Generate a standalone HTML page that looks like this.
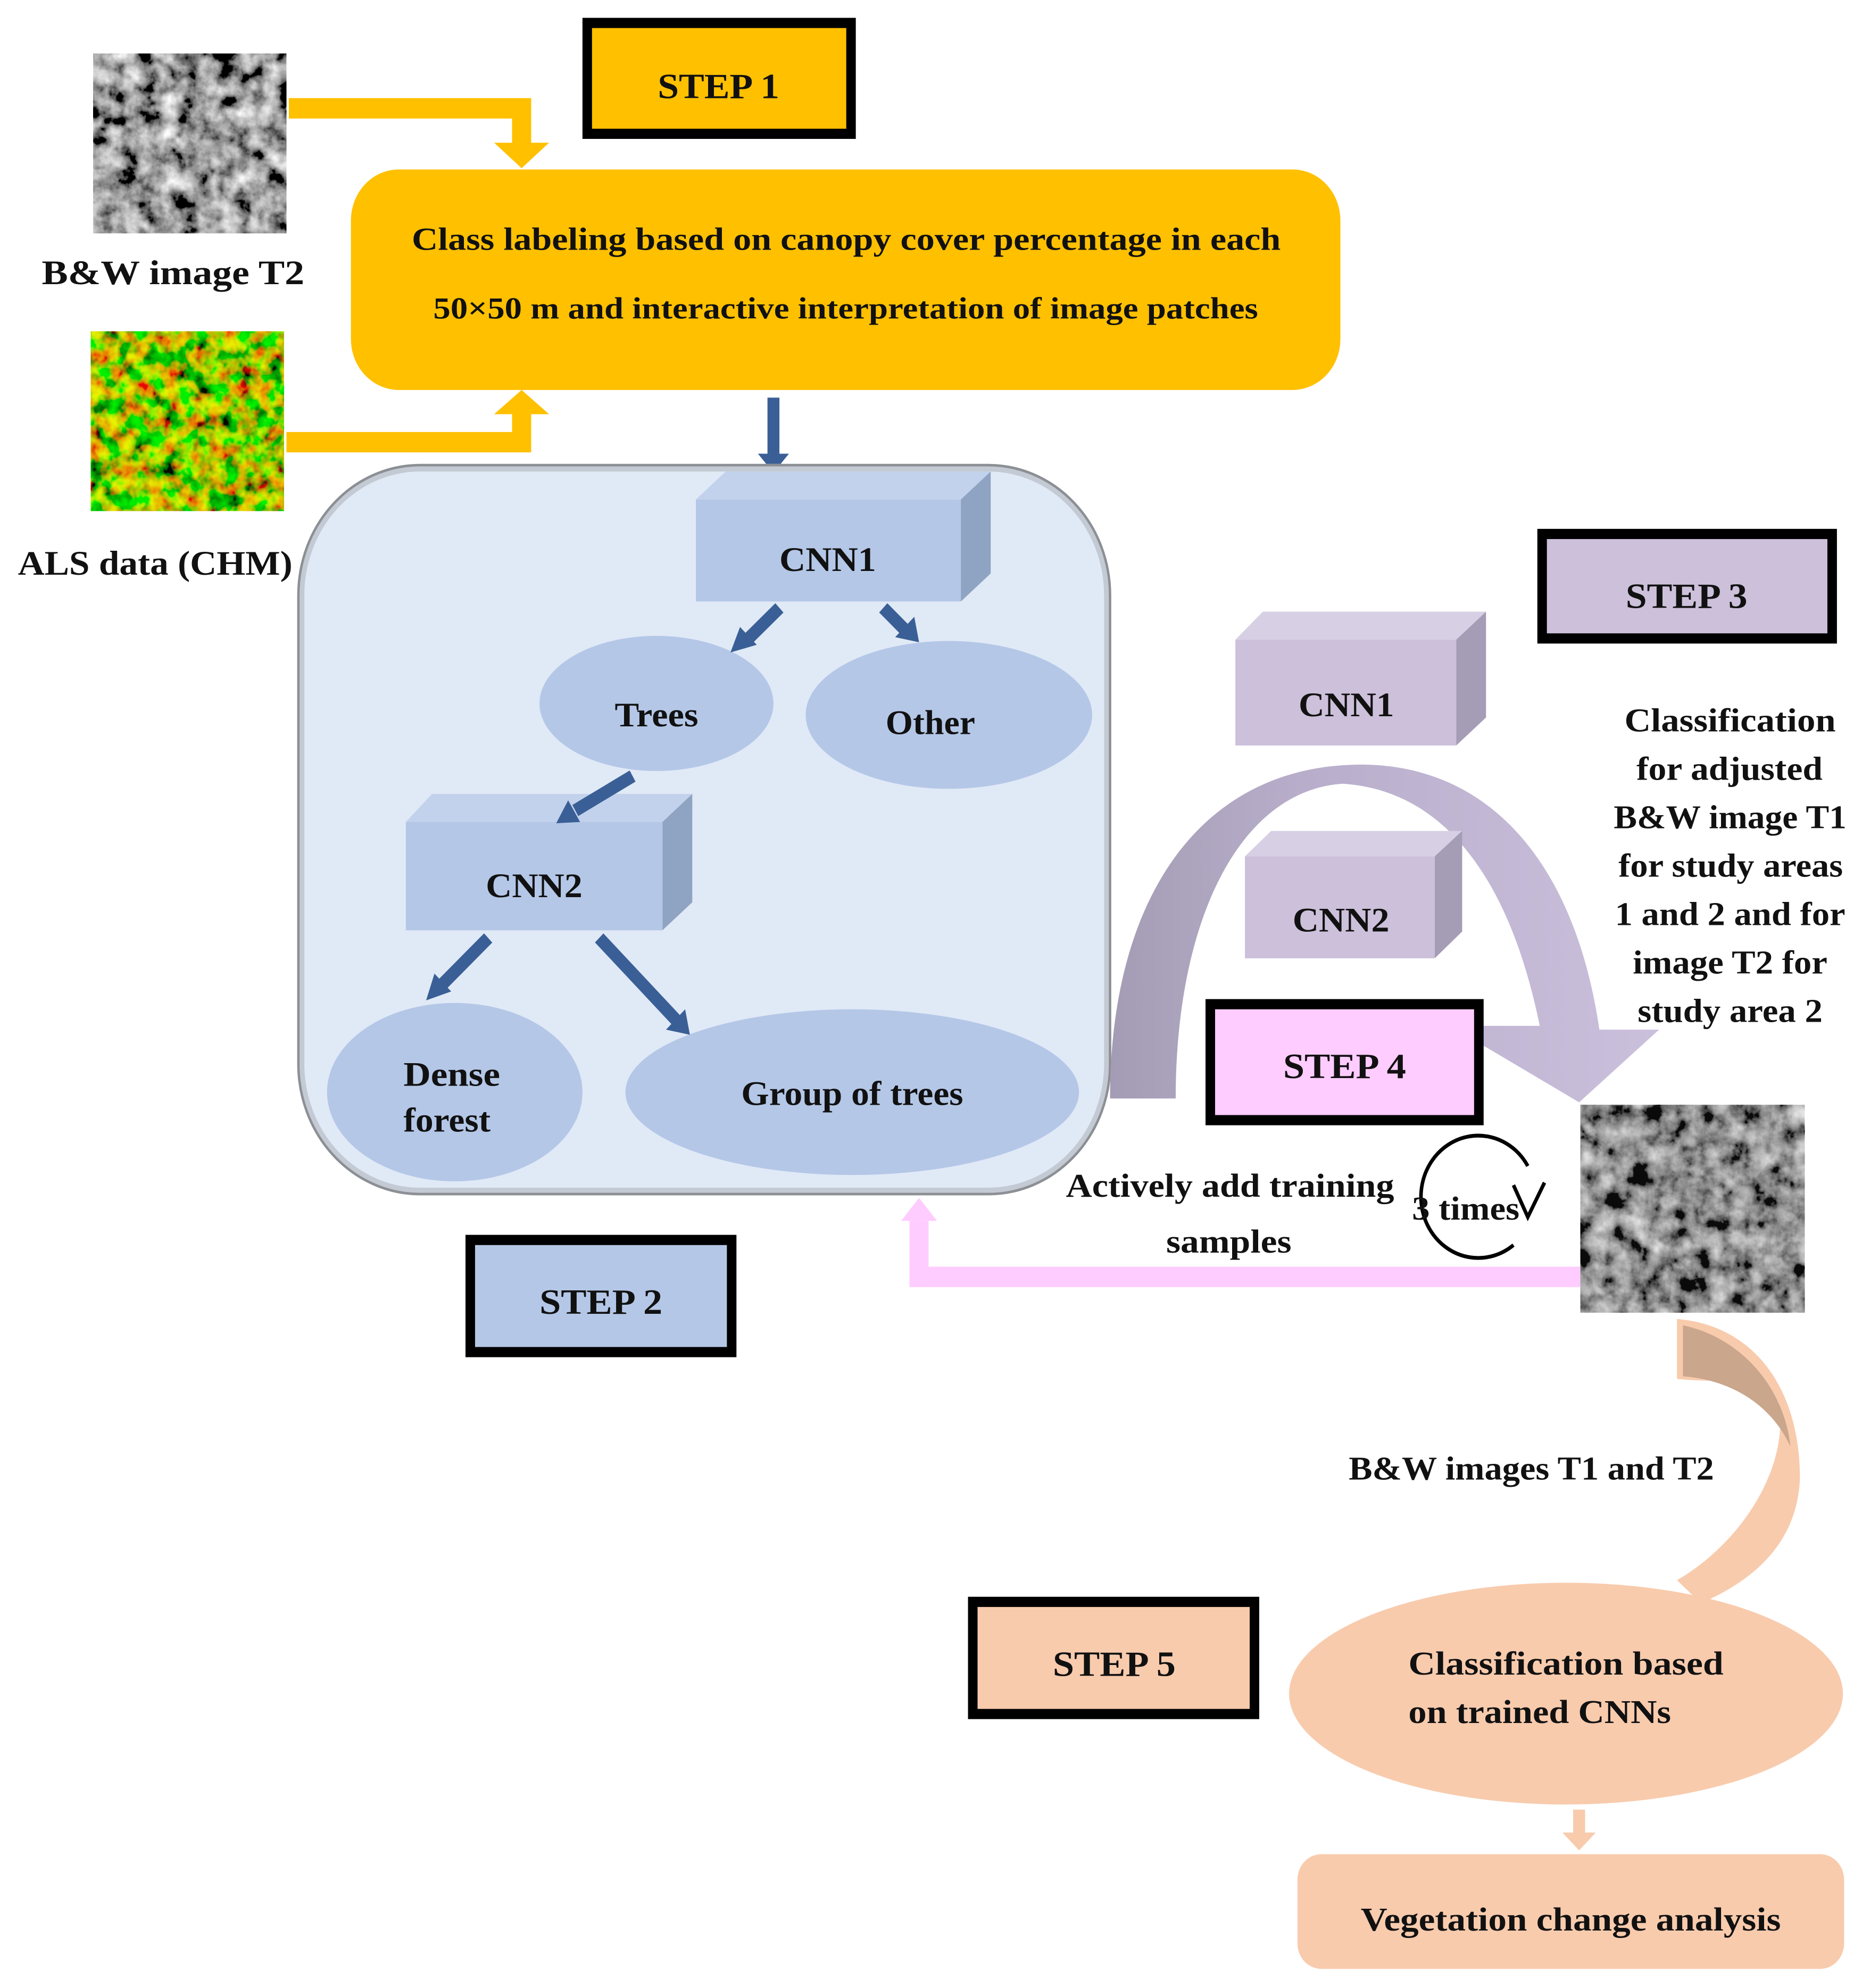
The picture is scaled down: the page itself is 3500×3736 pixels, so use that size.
<!DOCTYPE html>
<html><head><meta charset="utf-8"><style>html,body{margin:0;padding:0;background:#fff}svg{display:block}text{font-family:"Liberation Serif",serif;font-weight:bold;fill:#111}</style></head>
<body>
<svg width="3500" height="3736" viewBox="0 0 1560 1560" preserveAspectRatio="none" xmlns="http://www.w3.org/2000/svg">
<defs>
<filter id="gray" x="0" y="0" width="100%" height="100%"><feTurbulence type="fractalNoise" baseFrequency="0.06" numOctaves="4" seed="3"/><feColorMatrix type="matrix" values="0.33 0.33 0.33 0 0 0.33 0.33 0.33 0 0 0.33 0.33 0.33 0 0 0 0 0 0 1"/><feComponentTransfer><feFuncR type="linear" slope="3" intercept="-1.15"/><feFuncG type="linear" slope="3" intercept="-1.15"/><feFuncB type="linear" slope="3" intercept="-1.15"/></feComponentTransfer></filter>
<filter id="chm" x="0" y="0" width="100%" height="100%"><feTurbulence type="fractalNoise" baseFrequency="0.08" numOctaves="3" seed="7"/><feColorMatrix type="matrix" values="4 0 0 0 -1.6  0 2.2 0 0 -0.5  0 0 0 0 0  0 0 0 0 1"/></filter>
<linearGradient id="arch" x1="0" x2="1" y1="0" y2="0"><stop offset="0" stop-color="#a49cb4"/><stop offset="0.35" stop-color="#b8aecb"/><stop offset="1" stop-color="#cbc0dc"/></linearGradient>
</defs>
<!-- images -->
<rect x="78" y="42" width="162" height="141" fill="#555"/>
<rect x="78" y="42" width="162" height="141" filter="url(#gray)"/>
<rect x="76" y="260" width="162" height="141" fill="#1a6a00"/>
<rect x="76" y="260" width="162" height="141" filter="url(#chm)" opacity="0.9"/>
<text x="35" y="223" font-size="27" textLength="220" lengthAdjust="spacingAndGlyphs">B&amp;W image T2</text>
<text x="15" y="451" font-size="27" textLength="230" lengthAdjust="spacingAndGlyphs">ALS data (CHM)</text>
<!-- step 1 -->
<rect x="492" y="18" width="221" height="87" fill="#ffc000" stroke="#000" stroke-width="8"/>
<text x="551" y="77" font-size="28" textLength="102" lengthAdjust="spacingAndGlyphs">STEP 1</text>
<rect x="294" y="133" width="829" height="173" rx="40" fill="#ffc000"/>
<text x="345" y="196" font-size="25" textLength="728" lengthAdjust="spacingAndGlyphs">Class labeling based on canopy cover percentage in each</text>
<text x="363" y="250" font-size="24" textLength="691" lengthAdjust="spacingAndGlyphs">50×50 m and interactive interpretation of image patches</text>
<path d="M242,77 H445 V112 H460 L437,132 L414,112 H429 V93 H242 Z" fill="#ffc000"/>
<path d="M240,355 H445 V325 H460 L437,306 L414,325 H429 V339 H240 Z" fill="#ffc000"/>
<!-- blue arrow down -->
<path d="M643,312 H653 V356 H661 L648,371 L635,356 H643 Z" fill="#3a5f96"/>
<!-- container -->
<rect x="252" y="367" width="676" height="568" rx="100" fill="#e0e9f6" stroke="#c4cad3" stroke-width="6"/>
<rect x="250" y="365" width="680" height="572" rx="102" fill="none" stroke="#8c8f94" stroke-width="2"/>
<!-- CNN1 -->
<path d="M583,392 L608,370 H830 L805,392 Z" fill="#c2d2ec"/>
<path d="M805,392 L830,370 V450 L805,472 Z" fill="#8fa3c2"/>
<rect x="583" y="392" width="222" height="80" fill="#b4c7e7"/>
<text x="653" y="448" font-size="27" textLength="81" lengthAdjust="spacingAndGlyphs">CNN1</text>
<ellipse cx="550" cy="552" rx="98" ry="53" fill="#b4c7e7"/>
<text x="515" y="570" font-size="27" textLength="70" lengthAdjust="spacingAndGlyphs">Trees</text>
<ellipse cx="795" cy="561" rx="120" ry="58" fill="#b4c7e7"/>
<text x="742" y="576" font-size="27" textLength="75" lengthAdjust="spacingAndGlyphs">Other</text>
<!-- CNN2 -->
<path d="M340,645 L362,623 H580 L555,645 Z" fill="#c2d2ec"/>
<path d="M555,645 L580,623 V708 L555,730 Z" fill="#8fa3c2"/>
<rect x="340" y="645" width="215" height="85" fill="#b4c7e7"/>
<text x="407" y="704" font-size="27" textLength="81" lengthAdjust="spacingAndGlyphs">CNN2</text>
<ellipse cx="381" cy="857" rx="107" ry="70" fill="#b4c7e7"/>
<text x="338" y="852" font-size="27" textLength="81" lengthAdjust="spacingAndGlyphs">Dense</text>
<text x="338" y="888" font-size="27" textLength="73" lengthAdjust="spacingAndGlyphs">forest</text>
<ellipse cx="714" cy="857" rx="190" ry="65" fill="#b4c7e7"/>
<text x="621" y="867" font-size="27" textLength="186" lengthAdjust="spacingAndGlyphs">Group of trees</text>
<!-- blue arrows -->
<g stroke="#3a5f96" stroke-width="10" fill="#3a5f96">
<line x1="653" y1="477" x2="625" y2="503"/><line x1="740" y1="477" x2="760" y2="496"/>
<line x1="530" y1="609" x2="482" y2="636"/><line x1="409" y1="736" x2="370" y2="773"/>
<line x1="502" y1="736" x2="567" y2="801"/>
</g>
<g fill="#3a5f96">
<polygon points="612,512 620,492 634,506"/><polygon points="770,504 750,500 766,484"/>
<polygon points="466,646 476,628 486,645"/><polygon points="357,785 364,764 378,778"/>
<polygon points="578,812 558,808 574,792"/>
</g>
<!-- step 2 -->
<rect x="394" y="973" width="219" height="88" fill="#b4c7e7" stroke="#000" stroke-width="8"/>
<text x="452" y="1031" font-size="28" textLength="103" lengthAdjust="spacingAndGlyphs">STEP 2</text>
<!-- step 3 -->
<rect x="1292" y="419" width="243" height="82" fill="#ccc0da" stroke="#000" stroke-width="8"/>
<text x="1362" y="477" font-size="28" textLength="102" lengthAdjust="spacingAndGlyphs">STEP 3</text>
<path d="M1035,502 L1058,480 H1245 L1220,502 Z" fill="#d7cfe3"/>
<path d="M1220,502 L1245,480 V563 L1220,585 Z" fill="#a59cb6"/>
<rect x="1035" y="502" width="185" height="83" fill="#ccc0da"/>
<text x="1088" y="562" font-size="27" textLength="80" lengthAdjust="spacingAndGlyphs">CNN1</text>
<!-- arch -->
<path d="M930,862 C930,700 1010,600 1140,600 C1250,600 1320,680 1340,808 L1390,808 L1323,865 L1215,805 L1290,805 C1265,690 1210,620 1125,615 C1040,620 985,720 985,862 Z" fill="url(#arch)"/>
<path d="M1043,672 L1065,652 H1225 L1202,672 Z" fill="#d7cfe3"/>
<path d="M1202,672 L1225,652 V731 L1202,752 Z" fill="#a59cb6"/>
<rect x="1043" y="672" width="159" height="80" fill="#ccc0da"/>
<text x="1083" y="731" font-size="27" textLength="81" lengthAdjust="spacingAndGlyphs">CNN2</text>
<g font-size="26" lengthAdjust="spacingAndGlyphs">
<text x="1361" y="574" textLength="177" lengthAdjust="spacingAndGlyphs">Classification</text>
<text x="1371" y="612" textLength="156" lengthAdjust="spacingAndGlyphs">for adjusted</text>
<text x="1352" y="650" textLength="195" lengthAdjust="spacingAndGlyphs">B&amp;W image T1</text>
<text x="1356" y="688" textLength="188" lengthAdjust="spacingAndGlyphs">for study areas</text>
<text x="1353" y="726" textLength="193" lengthAdjust="spacingAndGlyphs">1 and 2 and for</text>
<text x="1368" y="764" textLength="163" lengthAdjust="spacingAndGlyphs">image T2 for</text>
<text x="1372" y="802" textLength="155" lengthAdjust="spacingAndGlyphs">study area 2</text></g>
<!-- step 4 -->
<rect x="1014" y="788" width="225" height="91" fill="#ffccff" stroke="#000" stroke-width="8"/>
<text x="1075" y="846" font-size="28" textLength="103" lengthAdjust="spacingAndGlyphs">STEP 4</text>
<rect x="1324" y="867" width="188" height="163" fill="#444"/>
<rect x="1324" y="867" width="188" height="163" filter="url(#gray)" opacity="0.85"/>
<text x="893" y="939" font-size="26" textLength="275" lengthAdjust="spacingAndGlyphs">Actively add training</text>
<text x="977" y="983" font-size="26" textLength="105" lengthAdjust="spacingAndGlyphs">samples</text>
<path d="M1268,977 A48,48 0 1 1 1280,915" fill="none" stroke="#000" stroke-width="3"/>
<path d="M1268,930 L1280,955 L1294,928" fill="none" stroke="#000" stroke-width="3"/>
<text x="1183" y="957" font-size="26" textLength="90" lengthAdjust="spacingAndGlyphs">3 times</text>
<rect x="762" y="958" width="16" height="52" fill="#ffccff"/><rect x="762" y="994" width="562" height="16" fill="#ffccff"/>
<polygon points="755,958 785,958 770,940" fill="#ffccff"/>
<!-- peach arrow -->
<path d="M1405,1035 C1470,1040 1508,1090 1508,1160 C1506,1210 1470,1240 1425,1258 L1405,1240 C1460,1210 1500,1150 1490,1100 C1470,1080 1430,1085 1405,1082 Z" fill="#f8cbad"/>
<path d="M1410,1040 C1460,1050 1495,1090 1500,1135 C1480,1095 1440,1082 1410,1080 Z" fill="#c9a68c"/>
<text x="1130" y="1161" font-size="26" textLength="306" lengthAdjust="spacingAndGlyphs">B&amp;W images T1 and T2</text>
<rect x="815" y="1257" width="236" height="88" fill="#f8cbad" stroke="#000" stroke-width="8"/>
<text x="882" y="1315" font-size="28" textLength="103" lengthAdjust="spacingAndGlyphs">STEP 5</text>
<ellipse cx="1312" cy="1329" rx="232" ry="87" fill="#f8cbad"/>
<text x="1180" y="1314" font-size="26" textLength="264" lengthAdjust="spacingAndGlyphs">Classification  based</text>
<text x="1180" y="1352" font-size="26" textLength="220" lengthAdjust="spacingAndGlyphs">on trained CNNs</text>
<path d="M1318,1420 H1328 V1438 H1337 L1323,1452 L1309,1438 H1318 Z" fill="#f8cbad"/>
<rect x="1087" y="1455" width="458" height="90" rx="20" fill="#f8cbad"/>
<text x="1140" y="1515" font-size="26" textLength="352" lengthAdjust="spacingAndGlyphs">Vegetation change analysis</text>
</svg>
</body></html>
